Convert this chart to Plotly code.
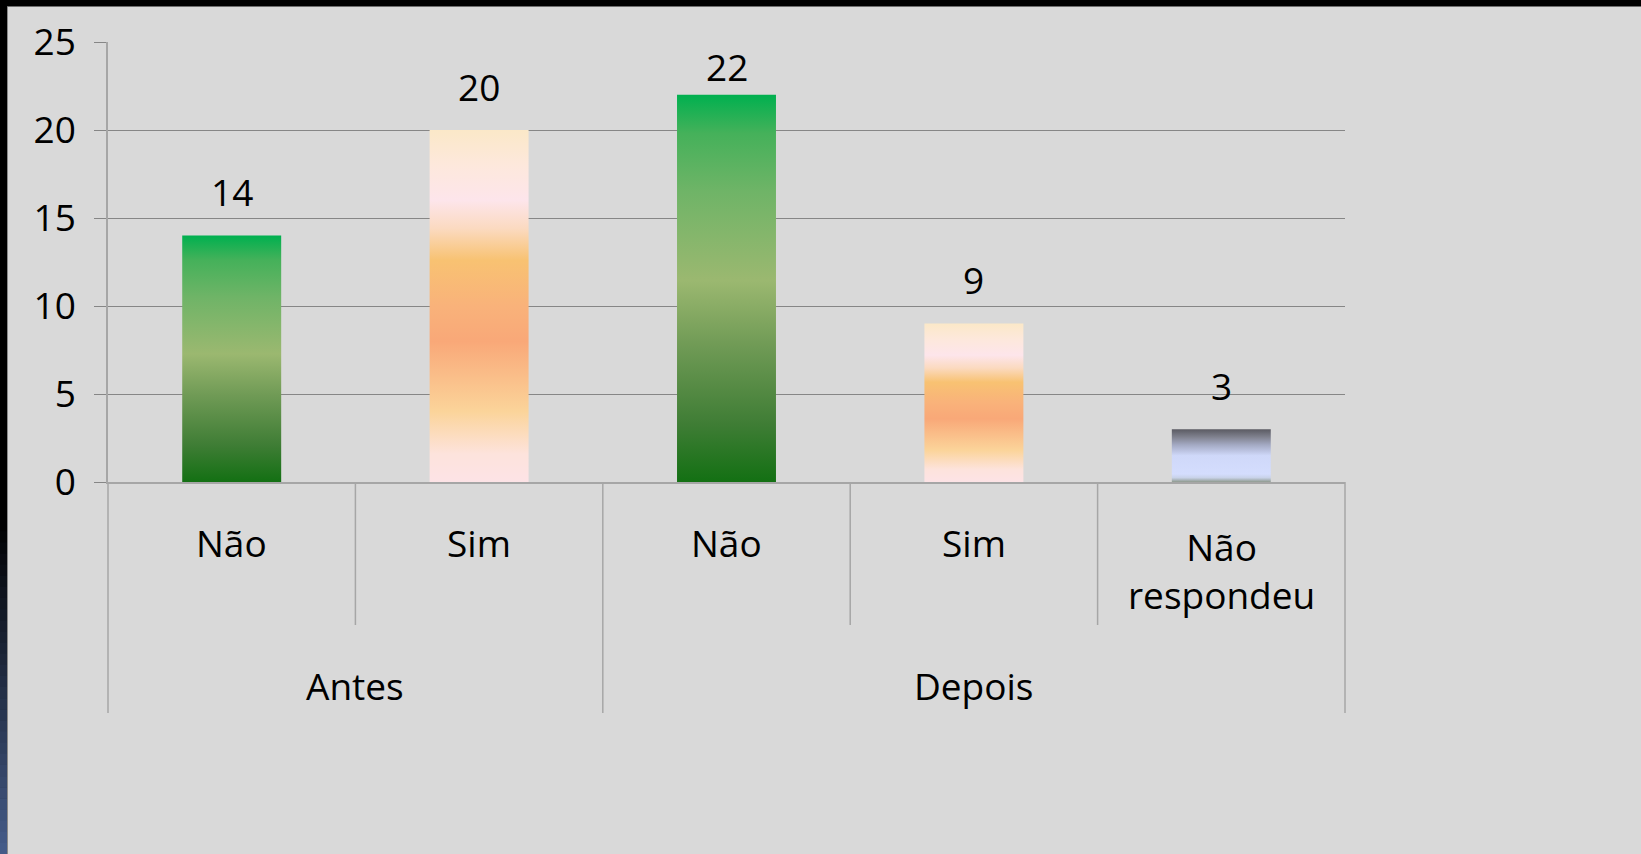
import plotly.graph_objects as go

# ---- data ----
groups = ["Antes", "Antes", "Depois", "Depois", "Depois"]
answers = ["Não", "Sim", "Não", "Sim", "Não<br>respondeu"]
values = [14, 20, 22, 9, 3]
y_ticks = [0, 5, 10, 15, 20, 25]

# gradient styles per answer type (0 = bottom of bar, 1 = top)
green_scale = [[0.0, "#137013"], [0.15, "#3f7d35"], [0.35, "#6f9a55"], [0.52, "#9bb870"],
               [0.75, "#6fb467"], [0.9, "#45b15a"], [1.0, "#00b04f"]]
orange_scale = [[0.0, "#fde3e6"], [0.08, "#fde3dc"], [0.2, "#fbd49a"], [0.4, "#f9a878"],
                [0.5, "#f9b27a"], [0.63, "#f8c272"], [0.72, "#fbdac0"], [0.8, "#fde5eb"],
                [0.9, "#fde8dc"], [1.0, "#fbe8c8"]]
grey_scale = [[0.0, "#8f9a8f"], [0.08, "#c8d2e8"], [0.15, "#d4ddfd"], [0.5, "#cfd8f9"],
              [0.7, "#a4aac4"], [0.85, "#80828f"], [1.0, "#5a5a62"]]
scales = [green_scale, orange_scale, green_scale, orange_scale, grey_scale]

W, H = 1641, 854
ML, MR, MT, MB = 108, 296, 42, 372
PW, PH = W - ML - MR, H - MT - MB
FONT = "Open Sans"
FS = 37


def px_x(p):
    return (p - ML) / PW


def px_y(p):
    return (H - MB - p) / PH


bar_w = 0.4
fig = go.Figure()
for i, (v, sc) in enumerate(zip(values, scales)):
    x0, x1 = i - bar_w / 2, i + bar_w / 2
    fig.add_trace(go.Scatter(
        x=[x0, x1, x1, x0, x0], y=[0, 0, v, v, 0],
        mode="lines", fill="toself", line=dict(width=0, color="rgba(0,0,0,0)"),
        fillgradient=dict(type="vertical", colorscale=sc),
        hoverinfo="skip", showlegend=False))

n = len(values)
ann = []
# value labels
for i, v in enumerate(values):
    ann.append(dict(x=i, y=min(v + 2.5, 23.6), xref="x", yref="y", text=str(v),
                    showarrow=False, font=dict(family=FONT, size=FS, color="black"),
                    xanchor="center", yanchor="middle"))
# category labels
for i, a in enumerate(answers):
    yy = px_y(570) if "<br>" in a else px_y(542)
    ann.append(dict(x=(i + 0.5) / n, y=yy, xref="paper", yref="paper", text=a,
                    showarrow=False, font=dict(family=FONT, size=FS, color="black"),
                    xanchor="center", yanchor="middle"))
# group labels
seen = []
for g in groups:
    if g not in seen:
        seen.append(g)
for g in seen:
    idx = [i for i, gg in enumerate(groups) if gg == g]
    c = (min(idx) + max(idx) + 1) / 2 / n
    ann.append(dict(x=c, y=px_y(685), xref="paper", yref="paper", text=g,
                    showarrow=False, font=dict(family=FONT, size=FS, color="black"),
                    xanchor="center", yanchor="middle"))

shapes = []
sep_col = "#a6a6a6"
# separators
for b in range(n + 1):
    if b == 0 or b == n or groups[b - 1] != groups[b]:
        yb = px_y(713)
    else:
        yb = px_y(625)
    shapes.append(dict(type="line", xref="paper", yref="paper", x0=b / n, x1=b / n,
                       y0=0, y1=yb, line=dict(color=sep_col, width=1.5)))

# frame decoration: black top border and left strip fading to blue
shapes.append(dict(type="rect", xref="paper", yref="paper", x0=px_x(0), x1=px_x(W),
                   y0=px_y(6), y1=px_y(0), fillcolor="black", line=dict(width=0), layer="above"))
shapes.append(dict(type="rect", xref="paper", yref="paper", x0=px_x(0), x1=px_x(7),
                   y0=px_y(H), y1=px_y(0), fillcolor="black", line=dict(width=0), layer="above"))
steps = 30
top, bot = 520, H
c0, c1 = (0, 0, 0), (0x46, 0x5d, 0x8b)
for k in range(steps):
    t = (k + 0.5) / steps
    col = tuple(int(c0[j] + (c1[j] - c0[j]) * t) for j in range(3))
    ya = top + (bot - top) * k / steps
    yb2 = top + (bot - top) * (k + 1) / steps
    shapes.append(dict(type="rect", xref="paper", yref="paper", x0=px_x(0), x1=px_x(7),
                       y0=px_y(yb2 + 0.5), y1=px_y(ya), fillcolor="rgb(%d,%d,%d)" % col,
                       line=dict(width=0), layer="above"))
shapes.append(dict(type="line", xref="paper", yref="paper", x0=px_x(7.5), x1=px_x(7.5),
                   y0=px_y(H), y1=px_y(6), line=dict(color="#8a8a8a", width=1), layer="above"))
shapes.append(dict(type="line", xref="paper", yref="paper", x0=px_x(7), x1=px_x(W),
                   y0=px_y(6.5), y1=px_y(6.5), line=dict(color="#6e6e6e", width=1), layer="above"))

fig.update_layout(
    width=W, height=H, autosize=False,
    margin=dict(l=ML, r=MR, t=MT, b=MB, pad=0),
    paper_bgcolor="#d9d9d9", plot_bgcolor="#d9d9d9",
    showlegend=False,
    font=dict(family=FONT, size=FS, color="black"),
    xaxis=dict(range=[-0.5, n - 0.5], showgrid=False, showticklabels=False, zeroline=False,
               showline=True, linecolor=sep_col, linewidth=1.5, ticks="", fixedrange=True),
    yaxis=dict(range=[0, 25], tickvals=y_ticks, showgrid=True, gridcolor="#868686", gridwidth=1,
               zeroline=False, showline=True, linecolor=sep_col, linewidth=1.5,
               ticks="outside", ticklen=12, tickcolor="#868686", tickwidth=1,
               ticklabelstandoff=11, tickfont=dict(family=FONT, size=FS, color="black"),
               fixedrange=True),
    annotations=ann, shapes=shapes,
)

fig.write_html("out.html", config={"displayModeBar": False},
               post_script="document.body.style.margin='0';document.body.style.overflow='hidden';"
                           "document.body.style.background='#d9d9d9';")
